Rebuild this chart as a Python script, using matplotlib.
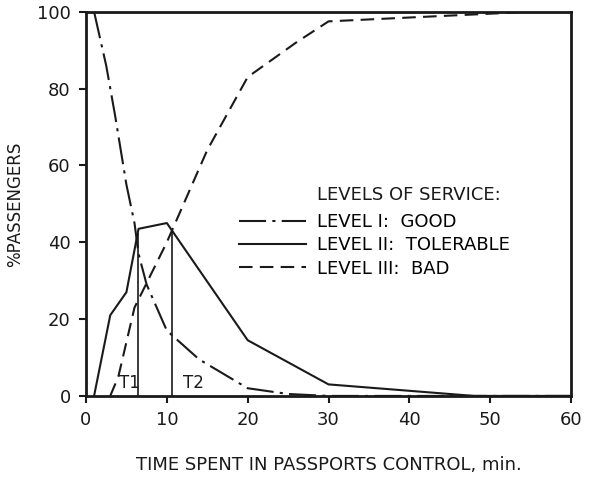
import numpy as np
import matplotlib
matplotlib.use("Agg")
import matplotlib.pyplot as plt
from matplotlib.lines import Line2D

# ---- data ----
good_x = [1, 2.5, 3.6, 5, 6, 6.5, 7.5, 10, 14, 20, 25, 30, 60]
good_y = [100, 86, 73, 55, 45, 37, 29, 17, 9.5, 2, 0.5, 0, 0]

tol_x = [1, 3, 5, 6, 6.5, 10, 20, 30, 48, 60]
tol_y = [0, 21, 27, 38, 43.5, 45, 14.5, 3, 0, 0]

bad_x = [3, 4, 6, 10, 15, 20, 26, 30, 40, 50, 55, 60]
bad_y = [0, 5, 23, 40, 64, 83, 92, 97.5, 98.5, 99.5, 100, 100]

t_marks = [6.4, 10.6]
t_labels = ["T1", "T2"]

legend_title = "LEVELS OF SERVICE:"
legend_labels = ["LEVEL I:  GOOD", "LEVEL II:  TOLERABLE", "LEVEL III:  BAD"]

x_ticks = [0, 10, 20, 30, 40, 50, 60]
y_ticks = [0, 20, 40, 60, 80, 100]

# ---- figure ----
plt.rcParams['font.family'] = ['DejaVu Sans']
fig = plt.figure(figsize=(5.93, 4.90), dpi=100)
ax = fig.add_axes([0.145, 0.192, 0.818, 0.784])

col = '#1a1a1a'
lw = 1.5
ls_good = (0, (13, 3, 1.5, 3))
ls_bad = (0, (6.5, 3.5))

ax.plot(good_x, good_y, color=col, lw=lw, linestyle=ls_good)
ax.plot(tol_x, tol_y, color=col, lw=lw, linestyle='-')
ax.plot(bad_x, bad_y, color=col, lw=lw, linestyle=ls_bad)

for t in t_marks:
    top = np.interp(t, tol_x, tol_y)
    ax.vlines(t, 0, top, color=col, lw=1.2)
for t, lab, dx in zip(t_marks, t_labels, [-2.3, 1.4]):
    ax.text(t + dx, 1.0, lab, fontsize=12, ha='left', va='bottom', color=col)

ax.set_xlim(0, 60)
ax.set_ylim(0, 100)
ax.set_xticks(x_ticks)
ax.set_yticks(y_ticks)
ax.tick_params(direction='out', length=5, width=1.5, labelsize=13,
               colors=col, pad=6)
for s in ax.spines.values():
    s.set_linewidth(2)
    s.set_color(col)

ax.set_xlabel("TIME SPENT IN PASSPORTS CONTROL, min.", fontsize=13,
              labelpad=19, color=col)
ax.set_ylabel("%PASSENGERS", fontsize=12, labelpad=9, color=col)

handles = [Line2D([], [], color=col, lw=lw, linestyle=ls_good),
           Line2D([], [], color=col, lw=lw, linestyle='-'),
           Line2D([], [], color=col, lw=lw, linestyle=ls_bad)]
leg = ax.legend(handles, legend_labels, loc='upper left',
                bbox_to_anchor=(0.3, 0.495), frameon=False, fontsize=13,
                handlelength=3.7, handletextpad=0.65, labelspacing=0.3,
                borderaxespad=0)
ax.text(0.476, 0.50, legend_title, transform=ax.transAxes, fontsize=13,
        ha='left', va='bottom', color=col)

fig.savefig("out.png", dpi=100)
